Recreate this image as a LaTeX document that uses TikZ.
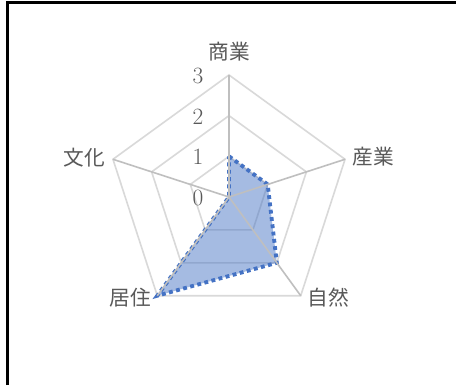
\documentclass[tikz,border=0pt]{standalone}
\usepackage{fontspec}
\usetikzlibrary{calc}
\newfontfamily\cjk{Noto Sans CJK JP}
\definecolor{gridc}{HTML}{D9D9D9}
\definecolor{spokec}{HTML}{BFBFBF}
\definecolor{labc}{HTML}{595959}
\definecolor{serc}{HTML}{4472C4}
\begin{document}
\begin{tikzpicture}[x=0.75pt,y=0.75pt,
  gridline/.style={draw=gridc,line width=1.2pt},
  spoke/.style={draw=spokec,line width=1.2pt},
  axlabel/.style={text=labc,font=\cjk\fontsize{15.5}{18}\selectfont,inner sep=0pt},
  numlabel/.style={text=labc,font=\fontsize{17.5}{20}\selectfont,inner sep=0pt,anchor=east},
  series/.style={draw=serc,line width=2.9pt,dash pattern=on 2.9pt off 2.6pt,line join=miter},
  seriesfill/.style={fill=serc,fill opacity=0.48}]
\useasboundingbox (0,0) rectangle (456,385);
\fill[white] (0,0) rectangle (456,385);
\coordinate (c) at (229,188);
\def\U{40.67}
% grid pentagons
\foreach \k in {1,2,3}{
  \draw[gridline] ($(c)+(90:\k*\U)$) -- ($(c)+(18:\k*\U)$) -- ($(c)+(-54:\k*\U)$) -- ($(c)+(-126:\k*\U)$) -- ($(c)+(162:\k*\U)$) -- cycle;
}
% axis vertices
\coordinate (a1) at ($(c)+(90:3*\U)$);
\coordinate (a2) at ($(c)+(18:3*\U)$);
\coordinate (a3) at ($(c)+(-54:3*\U)$);
\coordinate (a4) at ($(c)+(-126:3*\U)$);
\coordinate (a5) at ($(c)+(162:3*\U)$);
% data points
\coordinate (d1) at ($(c)+(90:1*\U)$);
\coordinate (d2) at ($(c)+(18:1*\U)$);
\coordinate (d3) at ($(c)+(-54:2*\U)$);
\coordinate (d4) at ($(c)+(-126:3*\U)$);
\coordinate (d5) at (c);
\fill[seriesfill] (d1) -- (d2) -- (d3) -- (d4) -- (d5) -- cycle;
\draw[series] (d1) -- (d2) -- (d3) -- (d4) -- (d5) -- cycle;
% spokes
\foreach \i in {1,...,5}{ \draw[spoke] (c) -- (a\i); }
% labels
\node[axlabel] (l1) at (229,333) {商業};
\node[axlabel] (l2) at (373,228) {産業};
\node[axlabel] (l3) at (328,87) {自然};
\node[axlabel] (l4) at (130,87) {居住};
\node[axlabel] (l5) at (84.5,227) {文化};
\node[numlabel] (n0) at (203.5,187) {0};
\node[numlabel] (n1) at (203.5,228) {1};
\node[numlabel] (n2) at (203.5,268) {2};
\node[numlabel] (n3) at (203.5,309) {3};
% frame
\draw[black,line width=1.6pt] (7.5,0) -- (7.5,382.5) -- (456,382.5);
\end{tikzpicture}
\end{document}
